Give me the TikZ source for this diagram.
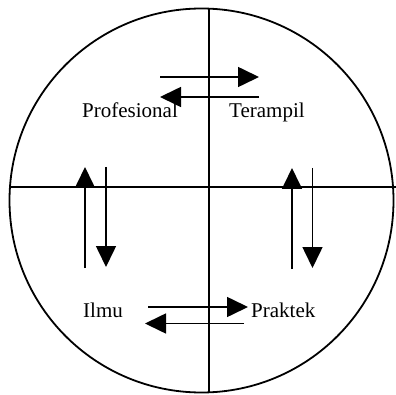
\documentclass[tikz,border=0pt]{standalone}
\usepackage{fontspec}
\setmainfont{Liberation Serif}
\usetikzlibrary{arrows.meta}
\begin{document}
\begin{tikzpicture}[x=1pt,y=1pt,
  flowarrow/.style={line width=1.6pt,-{Triangle[length=21pt,width=20pt]}},
  axisline/.style={line width=1.4pt},
  lbl/.style={inner sep=0pt,anchor=base west,font=\fontsize{21}{25}\selectfont}]
\useasboundingbox (0,0) rectangle (396,394);
\fill[white] (0,0) rectangle (396,394);
\draw[line width=1.8pt] (201.5,193.5) circle[radius=192];
\draw[axisline] (10,207) -- (396,207);
\draw[axisline] (209,1.7) -- (209,385.3);
\node[lbl] (prof) at (82,276) {Profesional};
\node[lbl] (ter) at (229,276) {Terampil};
\node[lbl] (ilmu) at (83,77) {Ilmu};
\node[lbl] (prak) at (251,77) {Praktek};
% top arrows
\coordinate (t1a) at (160,317); \coordinate (t1b) at (259,317);
\coordinate (t2a) at (259,297); \coordinate (t2b) at (160,297);
\draw[flowarrow] (t1a) -- (t1b);
\draw[flowarrow] (t2a) -- (t2b);
% left vertical arrows
\coordinate (l1a) at (85,126); \coordinate (l1b) at (85,227);
\coordinate (l2a) at (106,227); \coordinate (l2b) at (106,127);
\draw[flowarrow] (l1a) -- (l1b);
\draw[flowarrow] (l2a) -- (l2b);
% right vertical arrows
\coordinate (r1a) at (292,125); \coordinate (r1b) at (292,226);
\coordinate (r2a) at (312.5,226); \coordinate (r2b) at (312.5,126);
\draw[flowarrow] (r1a) -- (r1b);
\draw[flowarrow] (r2a) -- (r2b);
% bottom arrows
\coordinate (b1a) at (148,87); \coordinate (b1b) at (248,87);
\coordinate (b2a) at (244,70.5); \coordinate (b2b) at (145,70.5);
\draw[flowarrow] (b1a) -- (b1b);
\draw[flowarrow] (b2a) -- (b2b);
\end{tikzpicture}
\end{document}
